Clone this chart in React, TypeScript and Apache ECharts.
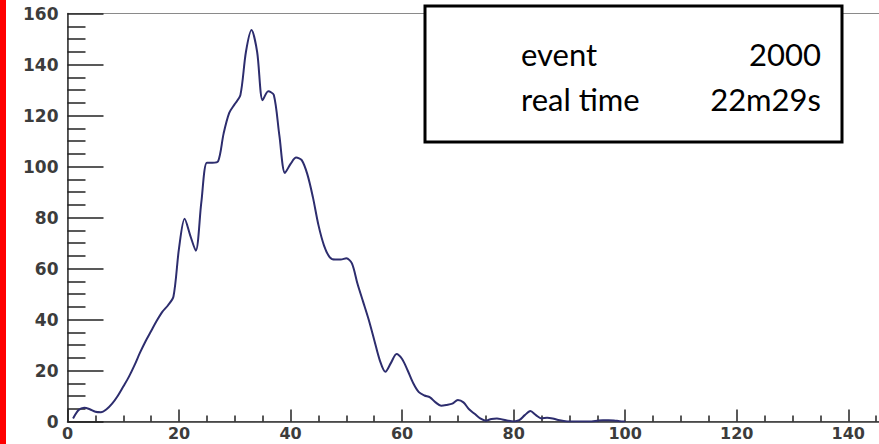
import React, { useEffect, useRef } from "react";
import * as echarts from "echarts";

// bin positions (x) and counts
const binX: number[] = [
  1, 2, 3, 4, 5, 6, 7, 8, 9, 10, 11, 12, 13, 14, 15, 16, 17, 18, 19, 20,
  21, 22, 23, 24, 25, 26, 27, 28, 29, 30, 31, 32, 33, 34, 35, 36, 37, 38, 39, 40,
  41, 42, 43, 44, 45, 46, 47, 48, 49, 50, 51, 52, 53, 54, 55, 56, 57, 58, 59, 60,
  61, 62, 63, 64, 65, 66, 67, 68, 69, 70, 71, 72, 73, 74, 75, 76, 77, 78, 79, 80,
  81, 82, 83, 84, 85, 86, 87, 88, 89, 90, 91, 92, 93, 94, 95, 96, 97, 98, 99, 100,
];
const counts: number[] = [
  1.2, 4.5, 5.4, 4.8, 3.8, 3.6, 4.8, 7, 10, 13.7, 17.5, 22, 27, 31.5, 35.5, 39.5, 43, 45.5, 49, 68,
  79.5, 73, 67, 86, 101.5, 101.5, 102, 113, 121, 124.5, 128, 145, 153.5, 145, 126, 129.5, 128, 112, 97.5, 101,
  103.5, 102.5, 97, 88, 77, 69, 64.5, 63.5, 63.5, 64, 62, 54, 47, 40, 32, 24, 19.5, 23, 26.5, 24.5,
  20, 15, 11.5, 10.2, 9.5, 7.5, 6.2, 6.5, 7, 8.4, 7.5, 4.8, 3, 1.2, 0.3, 1, 1.2, 0.8, 0.3, 0,
  0.5, 2.5, 4.1, 2.5, 1.2, 1.5, 1.2, 0.6, 0.2, 0, 0, 0, 0, 0, 0.3, 0.5, 0.5, 0.4, 0.1, 0,
];

const xMin = 0;
const xMax = 160;
const xInterval = 20;
const yMin = 0;
const yMax = 160;
const yInterval = 20;

const legendRows: { label: string; value: string }[] = [
  { label: "event", value: "2000" },
  { label: "real time", value: "22m29s" },
];

export default function App() {
  const ref = useRef<HTMLDivElement | null>(null);

  useEffect(() => {
    if (!ref.current) return;
    const chart = echarts.init(ref.current, null, { renderer: "svg" });
    const data = binX.map((x, i) => [x, counts[i]]);

    const axisLabelStyle = {
      fontFamily: "DejaVu Sans",
      fontWeight: "bold" as const,
      fontSize: 16,
      color: "#3c3c3c",
    };

    chart.setOption({
      animation: false,
      backgroundColor: "#ffffff",
      grid: {
        left: 67.5,
        top: 13.5,
        right: 40.2,
        bottom: 22.5,
        show: true,
        borderColor: "#8a8a8a",
        borderWidth: 1,
        backgroundColor: "transparent",
        containLabel: false,
        outerBoundsMode: "none",
      },
      xAxis: {
        type: "value",
        min: xMin,
        max: xMax,
        interval: xInterval,
        splitLine: { show: false },
        axisLine: { show: true, onZero: false, lineStyle: { color: "#333333", width: 1.5 } },
        axisTick: { show: true, inside: true, length: 12, lineStyle: { color: "#222222", width: 1.5 } },
        minorTick: { show: true, splitNumber: 4, length: 6, lineStyle: { color: "#222222", width: 1.5 } },
        minorSplitLine: { show: false },
        axisLabel: { ...axisLabelStyle, margin: 5, lineHeight: 14, showMaxLabel: false },
      },
      yAxis: {
        type: "value",
        min: yMin,
        max: yMax,
        interval: yInterval,
        splitLine: { show: false },
        axisLine: { show: true, onZero: false, lineStyle: { color: "#333333", width: 1.5 } },
        axisTick: { show: true, inside: true, length: 36, lineStyle: { color: "#222222", width: 1.5 } },
        minorTick: { show: true, splitNumber: 4, length: 18, lineStyle: { color: "#222222", width: 1.5 } },
        minorSplitLine: { show: false },
        axisLabel: { ...axisLabelStyle, fontSize: 17, margin: 9 },
      },
      series: [
        {
          type: "line",
          data,
          showSymbol: false,
          smooth: 0.3,
          lineStyle: { color: "#2d2d6e", width: 2 },
          clip: true,
        },
      ],
      graphic: [
        {
          type: "rect",
          left: 0,
          top: 0,
          shape: { x: 0, y: 0, width: 6, height: 444 },
          style: { fill: "#ff0000" },
          z: 100,
        },
        {
          type: "group",
          x: 0,
          y: 0,
          z: 100,
          children: [
            {
              type: "rect",
              shape: { x: 425, y: 6, width: 417, height: 136 },
              style: { fill: "#ffffff", stroke: "#000000", lineWidth: 3 },
            },
            ...legendRows.flatMap((row, i) => [
              {
                type: "text",
                x: 521,
                y: 54 + i * 45,
                style: {
                  text: row.label,
                  fontFamily: "Lato",
                  fontSize: 31,
                  fill: "#000000",
                  align: "left",
                  verticalAlign: "middle",
                },
              },
              {
                type: "text",
                x: 821,
                y: 54 + i * 45,
                style: {
                  text: row.value,
                  fontFamily: "Lato",
                  fontSize: 31,
                  fill: "#000000",
                  align: "right",
                  verticalAlign: "middle",
                },
              },
            ]),
          ],
        },
      ],
    });

    return () => {
      chart.dispose();
    };
  }, []);

  return (
    <div
      style={{
        position: "fixed",
        left: 0,
        top: 0,
        width: 879,
        height: 444,
        overflow: "hidden",
        background: "#ffffff",
      }}
    >
      <div ref={ref} style={{ width: 1000, height: 444 }} />
    </div>
  );
}
